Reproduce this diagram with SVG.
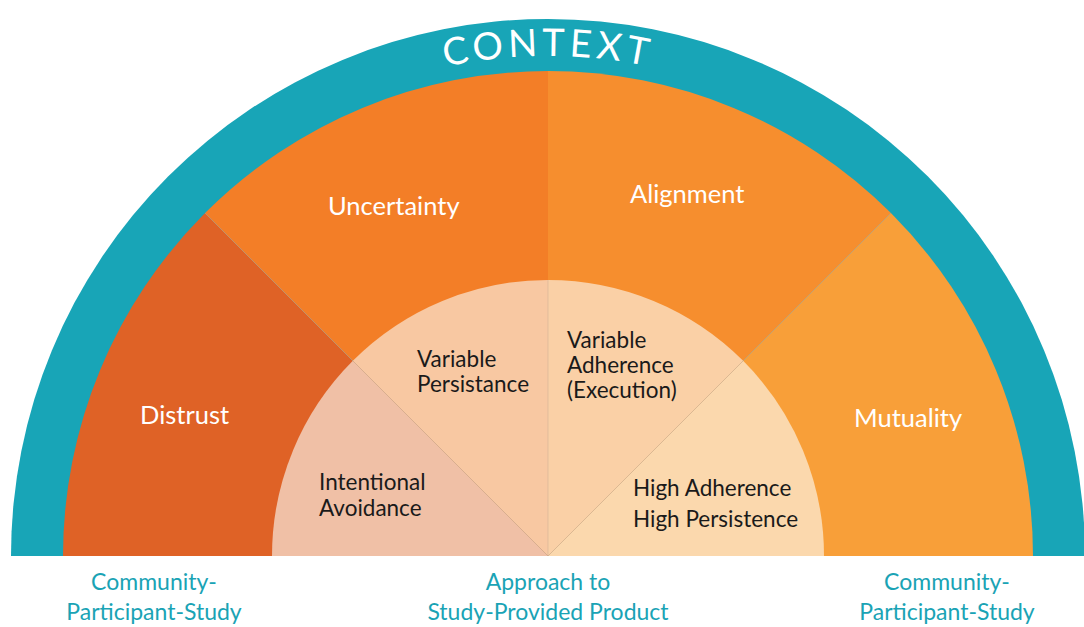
<svg xmlns="http://www.w3.org/2000/svg" width="1084" height="627" viewBox="0 0 1084 627">
  <style>
    .lbl { font-family: Lato, "Open Sans", "Liberation Sans", sans-serif; }
    .white { fill: #ffffff; font-size: 25.5px; }
    .dark { fill: #1a1a1a; font-size: 22.5px; }
    .foot { fill: #1AA3B5; font-size: 23px; text-anchor: middle; }
    .sep { stroke: #c9a98f; stroke-width: 0.8; stroke-opacity: 0.6; }
  </style>
  <defs>
    <path id="ctxArc" d="M 48 556 A 500 500 0 0 1 1048 556"/>
  </defs>
  <rect width="1084" height="627" fill="#ffffff"/>

  <!-- outer context band -->
  <g id="context">
    <path d="M 11 556 A 537 537 0 0 1 1085 556 Z" fill="#18A5B7"/>
    <text class="lbl" font-size="38" fill="#ffffff" letter-spacing="4.5" text-anchor="middle">
      <textPath href="#ctxArc" startOffset="50%">CONTEXT</textPath>
    </text>
  </g>

  <!-- outer sectors (45 degrees each), center 548,556 r=485 -->
  <g id="distrust">
    <path d="M 548 556 L 63 556 A 485 485 0 0 1 205.05 213.05 Z" fill="#DF6226"/>
    <text class="lbl white" x="140" y="424">Distrust</text>
  </g>
  <g id="uncertainty">
    <path d="M 548 556 L 205.05 213.05 A 485 485 0 0 1 548 71 Z" fill="#F37E27"/>
    <text class="lbl white" x="328" y="215">Uncertainty</text>
  </g>
  <g id="alignment">
    <path d="M 548 556 L 548 71 A 485 485 0 0 1 890.95 213.05 Z" fill="#F68E2E"/>
    <text class="lbl white" x="630" y="203">Alignment</text>
  </g>
  <g id="mutuality">
    <path d="M 548 556 L 890.95 213.05 A 485 485 0 0 1 1033 556 Z" fill="#F89F39"/>
    <text class="lbl white" x="854" y="427">Mutuality</text>
  </g>

  <!-- inner sectors, r=276 -->
  <g id="intentional-avoidance">
    <path d="M 548 556 L 272 556 A 276 276 0 0 1 352.84 360.84 Z" fill="#F0C0A6"/>
    <text class="lbl dark" x="319" y="490">Intentional</text>
    <text class="lbl dark" x="319" y="516">Avoidance</text>
  </g>
  <g id="variable-persistance">
    <path d="M 548 556 L 352.84 360.84 A 276 276 0 0 1 548 280 Z" fill="#F8C8A2"/>
    <text class="lbl dark" x="417" y="367">Variable</text>
    <text class="lbl dark" x="417" y="392">Persistance</text>
  </g>
  <g id="variable-adherence">
    <path d="M 548 556 L 548 280 A 276 276 0 0 1 743.16 360.84 Z" fill="#FAD0A6"/>
    <text class="lbl dark" x="567" y="348">Variable</text>
    <text class="lbl dark" x="567" y="373">Adherence</text>
    <text class="lbl dark" x="567" y="398">(Execution)</text>
  </g>
  <g id="high-adherence">
    <path d="M 548 556 L 743.16 360.84 A 276 276 0 0 1 824 556 Z" fill="#FBD8AD"/>
    <text class="lbl dark" x="633" y="496">High Adherence</text>
    <text class="lbl dark" x="633" y="527">High Persistence</text>
  </g>

  <!-- faint sector dividers -->
  <g id="connectors">
    <line class="sep" x1="548" y1="556" x2="205.05" y2="213.05"/>
    <line class="sep" x1="548" y1="556" x2="890.95" y2="213.05"/>
    <line class="sep" x1="548" y1="556" x2="548" y2="280"/>
  </g>

  <!-- footer captions -->
  <g id="captions">
    <text class="lbl foot" x="154" y="590">Community-</text>
    <text class="lbl foot" x="154" y="620">Participant-Study</text>
    <text class="lbl foot" x="548" y="590">Approach to</text>
    <text class="lbl foot" x="548" y="620">Study-Provided Product</text>
    <text class="lbl foot" x="947" y="590">Community-</text>
    <text class="lbl foot" x="947" y="620">Participant-Study</text>
  </g>
</svg>
